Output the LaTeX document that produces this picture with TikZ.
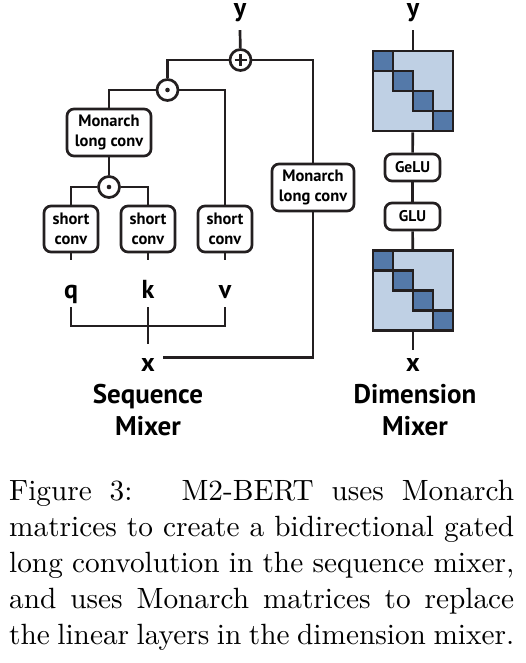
\documentclass[tikz,border=0pt]{standalone}
\usepackage{fontspec}
\newfontfamily\dfont{PT Sans}
\newfontfamily\capfont{lmroman10-regular}[Extension=.otf]
\definecolor{lbl}{RGB}{191,208,228}
\definecolor{dbl}{RGB}{84,121,169}
\definecolor{ink}{RGB}{35,31,32}
\begin{document}
\begin{tikzpicture}[x=1pt,y=-1pt,
  conn/.style={draw=ink,line width=2.7pt},
  box/.style={draw=ink,line width=2.7pt,rounded corners=7pt,fill=white,inner sep=0pt,align=center,
    font=\dfont\bfseries\fontsize{16.5}{19.5}\selectfont},
  smallbox/.style={box,font=\dfont\bfseries\fontsize{15.5}{17}\selectfont,minimum width=55pt,minimum height=27pt},
  op/.style={circle,draw=ink,line width=2.7pt,fill=white,minimum size=21pt,inner sep=0pt},
  plusop/.style={op,path picture={
     \draw[ink,line width=2.4pt] ([xshift=-6pt]path picture bounding box.center) -- ([xshift=6pt]path picture bounding box.center);
     \draw[ink,line width=2.4pt] ([yshift=-6pt]path picture bounding box.center) -- ([yshift=6pt]path picture bounding box.center);}},
  dotop/.style={op,path picture={
     \fill[ink] (path picture bounding box.center) circle (2.3pt);}},
  lab/.style={inner sep=0pt,anchor=base,font=\dfont\bfseries\fontsize{26}{32}\selectfont},
  title/.style={inner sep=0pt,anchor=base,font=\dfont\bfseries\fontsize{27}{32}\selectfont},
  monarch/.style={draw=ink,line width=2.7pt,fill=lbl,minimum size=80pt,inner sep=0pt,
    path picture={
      \foreach \i in {0,1,2,3}
        \draw[ink,fill=dbl,line width=2.2pt] ([shift={(20*\i,20*\i)}]path picture bounding box.north west) rectangle +(20,20);
    }},
]
\useasboundingbox (0,0) rectangle (525,663);

% ---------- Sequence mixer ----------
\node[lab,text height=13pt,text depth=13pt] (yL) at (240,17) {y};
\node[plusop] (plus) at (240.5,60) {};
\node[dotop] (odot1) at (167.5,90) {};
\node[box,minimum width=84pt,minimum height=47pt] (mlc1) at (109,132.5) {Monarch\\long conv};
\node[box,minimum width=82pt,minimum height=47pt] (mlc2) at (313,187.5) {Monarch\\long conv};
\node[dotop] (odot2) at (109,187) {};
\node[box,minimum width=54pt,minimum height=46pt] (sq) at (71,229) {short\\conv};
\node[box,minimum width=54pt,minimum height=46pt] (sk) at (148,229) {short\\conv};
\node[box,minimum width=54pt,minimum height=46pt] (sv) at (225,229) {short\\conv};
\node[lab,text height=38pt,text depth=9pt] (q) at (71,298) {q};
\node[lab,text height=38pt,text depth=9pt] (k) at (148,298) {k};
\node[lab,text height=38pt,text depth=9pt] (v) at (225,298) {v};
\coordinate (hj) at (148,326);
\node[lab,text height=27pt,text depth=0pt,inner xsep=8pt] (xS) at (148,371) {x};
\node[title] (seqA) at (148,403) {Sequence};
\node[title] (seqB) at (148,435) {Mixer};

\draw[conn] (yL.south) -- (plus);
\draw[conn] (plus) -| (odot1);
\draw[conn] (plus) -| (mlc2);
\draw[conn] (odot1) -| (mlc1);
\draw[conn] (odot1) -| (sv);
\draw[conn] (mlc1) -- (odot2);
\draw[conn] (odot2) -| (sq);
\draw[conn] (odot2) -| (sk);
\draw[conn] (sq) -- (q.north);
\draw[conn] (sk) -- (k.north);
\draw[conn] (sv) -- (v.north);
\draw[conn] (q.south) |- (hj) -| (v.south);
\draw[conn] (k.south) -- (xS.north);
\draw[conn] (xS.east) -| (mlc2.south);

% ---------- Dimension mixer ----------
\node[lab,text height=13pt,text depth=13pt] (yR) at (413,17) {y};
\node[monarch] (m1) at (413,91) {};
\node[smallbox] (gelu) at (412.5,167.5) {GeLU};
\node[smallbox] (glu) at (412.5,216.5) {GLU};
\node[monarch] (m2) at (413,290.5) {};
\node[lab,text height=21pt,text depth=0pt] (xR) at (413,371) {x};
\node[title] (dimA) at (415,403) {Dimension};
\node[title] (dimB) at (415,435) {Mixer};

\draw[conn] (yR.south) -- (m1);
\draw[conn] (m1) -- (gelu);
\draw[conn] (gelu) -- (glu);
\draw[conn] (glu) -- (m2);
\draw[conn] (m2) -- (xR.north);

% ---------- Caption ----------
\node[anchor=base west,inner sep=0pt,text width=505pt,align=justify,
  font=\capfont\fontsize{29.3}{36}\selectfont] (cap) at (9,500)
  {\parfillskip=0pt Figure~3:\hskip 26pt plus 14pt M2-BERT uses Monarch\linebreak
   matrices to create a bidirectional gated\linebreak
   long convolution in the sequence mixer,\linebreak
   and uses Monarch matrices to replace\linebreak
   the linear layers in the dimension mixer.\par};
\end{tikzpicture}
\end{document}
